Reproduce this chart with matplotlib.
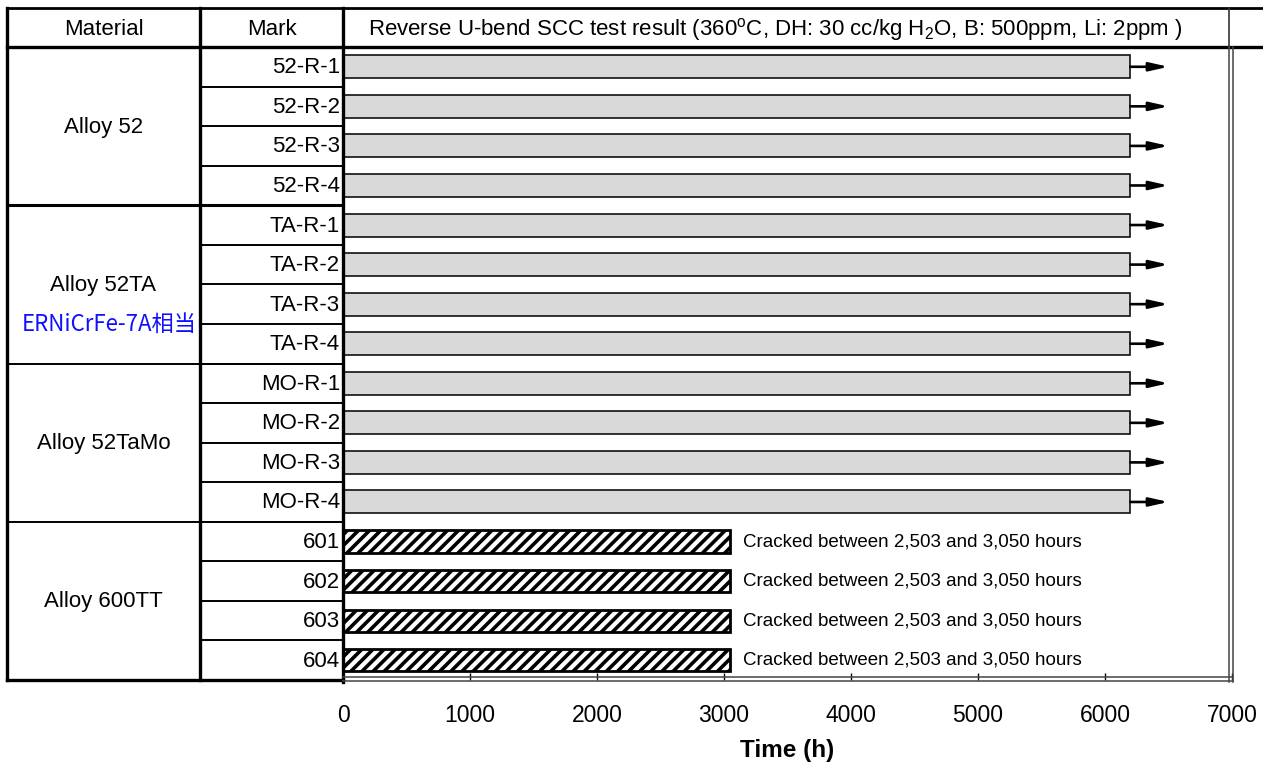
import matplotlib
matplotlib.use("Agg")
import matplotlib.pyplot as plt
import numpy as np

plt.rcParams['font.family'] = ['Liberation Sans', 'DejaVu Sans']
plt.rcParams['mathtext.fontset'] = 'custom'
plt.rcParams['mathtext.rm'] = 'Liberation Sans'
plt.rcParams['hatch.linewidth'] = 2.6

# data
materials = ["Alloy 52", "Alloy 52TA", "Alloy 52TaMo", "Alloy 600TT"]
group_size = [4, 4, 4, 4]
marks = ["52-R-1", "52-R-2", "52-R-3", "52-R-4",
         "TA-R-1", "TA-R-2", "TA-R-3", "TA-R-4",
         "MO-R-1", "MO-R-2", "MO-R-3", "MO-R-4",
         "601", "602", "603", "604"]
hours = [6200, 6200, 6200, 6200,
         6200, 6200, 6200, 6200,
         6200, 6200, 6200, 6200,
         3050, 3050, 3050, 3050]
cracked = [False] * 12 + [True] * 4
arrow_to = 6500
note = "Cracked between 2,503 and 3,050 hours"
note_x = 3150
xticks = [0, 1000, 2000, 3000, 4000, 5000, 6000, 7000]
title = ("Reverse U-bend SCC test result (360$^{\\mathregular{o}}$C, DH: 30 cc/kg "
         "H$_{\\mathregular{2}}$O, B: 500ppm, Li: 2ppm )")
sub_note = "ERNiCrFe-7A相当"

W, H = 1263, 763
fig = plt.figure(figsize=(W / 100, H / 100), dpi=100)

# table geometry in pixels
x0, x1, x2, x3, x4 = 7, 200, 343, 1229, 1232
y_top, y_head, y_bot = 8, 47, 680
n = len(marks)
row_h = (y_bot - y_head) / n

ax = fig.add_axes([x2 / W, 1 - y_bot / H, (x4 - x2) / W, (y_bot - y_head) / H])
ax.set_xlim(0, 7000)
ax.set_ylim(n - 0.5, -0.5)
for s in ax.spines.values():
    s.set_visible(False)
ax.set_yticks([])
ax.set_xticks(xticks)
ax.tick_params(axis='x', direction='in', length=5, width=1, labelsize=16.5, pad=17)
ax.set_xlabel("Time (h)", fontsize=17.5, fontweight='bold', labelpad=9)

y = np.arange(n)
for i in range(n):
    if cracked[i]:
        ax.barh(y[i], hours[i], height=0.56, left=0, facecolor='white',
                edgecolor='black', hatch='///', linewidth=2)
        ax.text(note_x, y[i], note, fontsize=13.5, va='center', ha='left')
    else:
        ax.barh(y[i], hours[i], height=0.58, left=0, facecolor='#d9d9d9',
                edgecolor='#111111', linewidth=1.2)
        ax.annotate('', xy=(arrow_to, y[i]), xytext=(hours[i], y[i]),
                    arrowprops=dict(arrowstyle='-|>,head_length=0.8,head_width=0.18',
                                    color='black', lw=1.9, mutation_scale=14,
                                    shrinkA=0, shrinkB=0))

# table overlay in pixel coordinates
tab = fig.add_axes([0, 0, 1, 1], zorder=5)
tab.set_xlim(0, W)
tab.set_ylim(H, 0)
tab.axis('off')
tab.patch.set_alpha(0)

k = 'black'
tab.plot([x0, W], [y_top, y_top], color=k, lw=2)
tab.plot([x0, W], [y_head, y_head], color=k, lw=2.4)
tab.plot([x0, x0], [y_top, y_bot], color=k, lw=2.4)
tab.plot([x1, x1], [y_top, y_bot], color=k, lw=2.4)
tab.plot([x2, x2], [y_top, y_bot + 2], color=k, lw=2.4)
tab.plot([x0, x2], [y_bot, y_bot], color=k, lw=2.4)
tab.plot([x3, x3], [y_top, y_head], color='#333333', lw=1.2)
for xx in (x3, x4 + 1):
    tab.plot([xx, xx], [y_head, y_bot + 2], color='#444444', lw=1.1)
for yy in (y_bot - 3, y_bot + 1):
    tab.plot([x2, x4 + 1], [yy, yy], color='#444444', lw=1.1)

# mark rows
for i in range(1, n):
    yy = y_head + i * row_h
    tab.plot([x1, x2], [yy, yy], color=k, lw=1.4)
for i in range(n):
    tab.text(x2 - 3, y_head + (i + 0.5) * row_h + 1, marks[i], fontsize=16,
             ha='right', va='center')

# material groups
start = 0
for g, name in enumerate(materials):
    stop = start + group_size[g]
    ya, yb = y_head + start * row_h, y_head + stop * row_h
    if start > 0:
        tab.plot([x0, x2], [ya, ya], color=k, lw=2.2 if g == 1 else 1.4)
    tab.text((x0 + x1) / 2, (ya + yb) / 2 + 1, name, fontsize=16,
             ha='center', va='center')
    start = stop
tab.text(22, y_head + 7 * row_h, sub_note, fontsize=16, color='#1010ff',
         family=['Noto Sans CJK JP', 'DejaVu Sans'], ha='left', va='center')

# header
tab.text((x0 + x1) / 2, (y_top + y_head) / 2 + 2, "Material", fontsize=16,
         ha='center', va='center')
tab.text((x1 + x2) / 2, (y_top + y_head) / 2 + 2, "Mark", fontsize=16,
         ha='center', va='center')
tab.text(368, (y_top + y_head) / 2 + 2, title, fontsize=16, ha='left', va='center')

fig.savefig("out.png", dpi=100)
